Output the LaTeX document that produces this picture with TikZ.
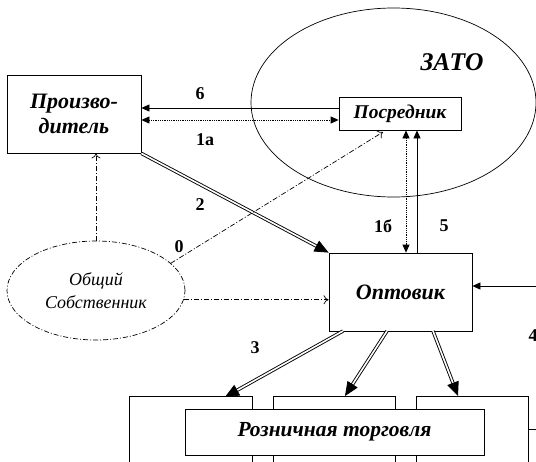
\documentclass[tikz,border=0pt]{standalone}
\usepackage{fontspec}
\setmainfont{Liberation Serif}
\usetikzlibrary{arrows.meta,shapes.geometric,calc}
\tikzset{
  box/.style={draw, line width=0.8pt, fill=white, inner sep=0pt, font=\fontsize{22}{25}\selectfont\bfseries\itshape, align=center},
  lbl/.style={font=\fontsize{18}{20}\selectfont\bfseries, inner sep=0pt},
  conn/.style={line width=0.8pt},
  tip/.style={-{Triangle[length=8pt,width=7pt]}},
  bigtip/.style={line width=0.8pt, -{Triangle[length=14pt,width=12pt]}},
  dbl/.style={double, double distance=1.6pt, line width=0.9pt},
  dashdot/.style={line width=0.7pt, dash pattern=on 5pt off 2pt on 1pt off 2pt},
  dots/.style={line width=0.8pt, densely dotted},
  opentip/.style={-{To[length=5pt,width=9pt]}}
}
\begin{document}
\begin{tikzpicture}[x=1pt,y=-1pt]
\useasboundingbox (0,0) rectangle (536,461);
\clip (0,0) rectangle (536,461);
% ellipses
\node[ellipse, draw, line width=0.7pt, minimum width=285pt, minimum height=189pt, inner sep=0pt] (zato) at (393.5,102.5) {};
\node[font=\fontsize{25.5}{28}\selectfont\bfseries\itshape] (zatot) at (452,62) {ЗАТО};
\node[ellipse, draw, dashdot, minimum width=178pt, minimum height=99pt, inner sep=0pt, align=center, font=\fontsize{18}{23}\selectfont\itshape] (ob) at (96,290.5) {Общий\\Собственник};
% boxes
\node[box, minimum width=134pt, minimum height=78pt] (pr) at (74,114) {Произво-\\дитель};
\node[box, minimum width=122pt, minimum height=33pt, font=\fontsize{19.5}{21}\selectfont\bfseries\itshape] (pos) at (400,113.5) {Посредник};
\node[box, minimum width=143pt, minimum height=78pt] (opt) at (400.5,292) {Оптовик};
\node[box, minimum width=123pt, minimum height=90pt, anchor=north] (r1) at (190.5,396) {};
\node[box, minimum width=122pt, minimum height=90pt, anchor=north] (r2) at (334,396) {};
\node[box, minimum width=112pt, minimum height=90pt, anchor=north] (r3) at (472,396) {};
\node[box, minimum width=299pt, minimum height=46pt, font=\fontsize{21.5}{24}\selectfont\bfseries\itshape] (ret) at (334.5,432) {Розничная торговля};
% coordinates
\coordinate (rin) at (540,286);
\coordinate (rout) at (540,429);
\coordinate (p6) at (0,108);
\coordinate (p1a) at (0,120);
\coordinate (v1b) at (406,0);
\coordinate (v5) at (417,0);
\coordinate (tgt0) at (383,132);
% connectors 6 and 1a
\draw[conn, tip] (pos.west |- p6) -- (pr.east |- p6);
\draw[dots, {Triangle[length=8pt,width=7pt]}-{Triangle[length=8pt,width=7pt]}] (pr.east |- p1a) -- (pos.west |- p1a);
% verticals 1b and 5
\draw[dots, {Triangle[length=8pt,width=7pt]}-{Triangle[length=8pt,width=7pt]}] (v1b |- pos.south) -- (v1b |- opt.north);
\draw[conn, tip] (v5 |- opt.north) -- (v5 |- pos.south);
% right input
\draw[conn, tip] (rin) -- (rin -| opt.east);
\draw[conn] (rout -| r3.east) -- (rout);
% double arrows
\coordinate (a2s) at (pr.south east);
\coordinate (a2e) at (opt.north west);
\draw[dbl, shorten >=12pt] (a2s) -- (a2e);
\draw[bigtip] ($(a2e)!14pt!(a2s)$) -- (a2e);
\coordinate (b1s) at (343,331);
\coordinate (b1e) at (225,397);
\coordinate (b2s) at (387,331);
\coordinate (b2e) at (345,396);
\coordinate (b3s) at (433,331);
\coordinate (b3e) at (458,396);
\foreach \s/\e in {b1s/b1e,b2s/b2e,b3s/b3e}{
  \draw[dbl, shorten >=12pt] (\s) -- (\e);
  \draw[bigtip] ($(\e)!14pt!(\s)$) -- (\e);
}
% dash-dot
\draw[dashdot, opentip] (ob.north) -- (ob.north |- pr.south);
\draw[dashdot, opentip] (ob.20) -- (tgt0);
\draw[dashdot, opentip] (ob.-6) -- (ob.-6 -| opt.west);
% labels
\node[lbl] (l6) at (200,94) {6};
\node[lbl] (l1a) at (205,140) {1а};
\node[lbl] (l2) at (200,205) {2};
\node[lbl] (l0) at (179,247) {0};
\node[lbl] (l1b) at (383,226) {1б};
\node[lbl] (l5) at (444,226) {5};
\node[lbl] (l3) at (255,348) {3};
\node[lbl] (l4) at (533,336) {4};
\end{tikzpicture}
\end{document}
